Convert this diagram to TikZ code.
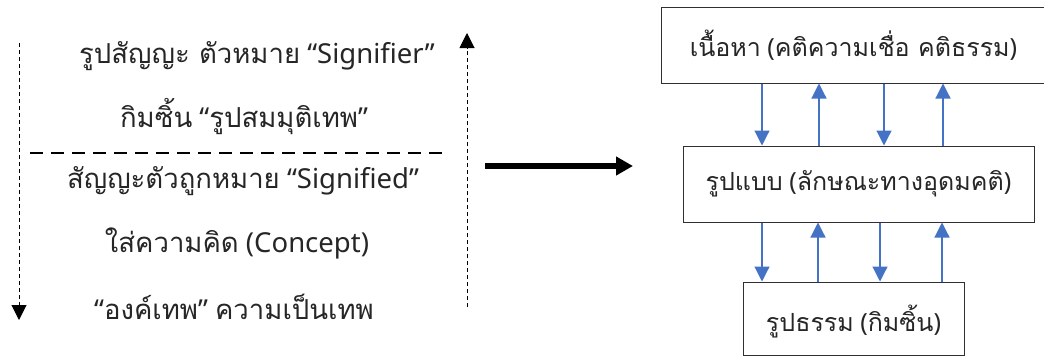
\documentclass[tikz,border=0pt]{standalone}
\usepackage{fontspec}
\setmainfont{Noto Sans}
\newfontfamily\thaif[Script=Thai]{Loma}
\usetikzlibrary{arrows.meta}
\definecolor{arrowblue}{HTML}{4472C4}
\definecolor{boxgray}{HTML}{303030}
\begin{document}
\begin{tikzpicture}[x=1pt,y=-1pt,
  txt/.style={font=\fontsize{27.5}{32}\selectfont, text=black!85, inner sep=0pt},
  box/.style={draw=boxgray, line width=1pt, fill=white, inner sep=0pt, font=\fontsize{25}{30}\selectfont, text=black!85},
  blarrow/.style={draw=arrowblue, line width=1.2pt, -{Triangle[length=15pt,width=15pt]}},
  vdash/.style={line width=1pt, dash pattern=on 4pt off 3pt, -{Triangle[length=15pt,width=15pt]}},
  hdash/.style={line width=2.5pt, dash pattern=on 13pt off 8pt},
  bigarrow/.style={line width=5.5pt, -{Triangle[length=17pt,width=18pt]}}
]
\useasboundingbox (0,0) rectangle (1044,356);
\fill[white] (0,0) rectangle (1044,356);

% left column texts
\node[txt] (t1) at (257,56) {{\thaif รูปสัญญะ ตัวหมาย} “Signifier”};
\node[txt] (t2) at (244,117) {{\thaif กิมซิ้น} “{\thaif รูปสมมุติเทพ}”};
\node[txt] (t3) at (243,181) {{\thaif สัญญะตัวถูกหมาย} “Signified”};
\node[txt] (t4) at (237,243) {{\thaif ใส่ความคิด} (Concept)};
\node[txt] (t5) at (234,307) {“{\thaif องค์เทพ}” {\thaif ความเป็นเทพ}};

% dashed arrows and line
\coordinate (l1) at (19,43);
\coordinate (l2) at (19,320);
\coordinate (r1) at (467,307);
\coordinate (r2) at (467,33);
\coordinate (h1) at (30,153);
\coordinate (h2) at (447,153);
\draw[vdash] (l1) -- (l2);
\draw[vdash] (r1) -- (r2);
\draw[hdash] (h1) -- (h2);

% big arrow
\coordinate (a1) at (485,166);
\coordinate (a2) at (633,166);
\draw[bigarrow] (a1) -- (a2);

% boxes
\node[box, minimum width=385pt, minimum height=76pt] (top) at (853.5,45) {{\thaif เนื้อหา} ({\thaif คติความเชื่อ คติธรรม})};
\node[box, minimum width=351pt, minimum height=76pt] (mid) at (858.5,184) {{\thaif รูปแบบ} ({\thaif ลักษณะทางอุดมคติ})};
\node[box, minimum width=221pt, minimum height=73pt, text depth=0pt] (bot) at (853.5,318.5) {{\thaif รูปธรรม} ({\thaif กิมซิ้น})};

% blue arrows top <-> mid
\draw[blarrow] ([xshift=-91.5pt]top.south) -- ([xshift=-96.5pt]mid.north);
\draw[blarrow] ([xshift=-39.5pt]mid.north) -- ([xshift=-34.5pt]top.south);
\draw[blarrow] ([xshift=30.5pt]top.south) -- ([xshift=25.5pt]mid.north);
\draw[blarrow] ([xshift=84.5pt]mid.north) -- ([xshift=89.5pt]top.south);
% blue arrows mid <-> bot
\draw[blarrow] ([xshift=-96.5pt]mid.south) -- ([xshift=-91.5pt]bot.north);
\draw[blarrow] ([xshift=-35.5pt]bot.north) -- ([xshift=-40.5pt]mid.south);
\draw[blarrow] ([xshift=21.5pt]mid.south) -- ([xshift=26.5pt]bot.north);
\draw[blarrow] ([xshift=88.5pt]bot.north) -- ([xshift=83.5pt]mid.south);
\end{tikzpicture}
\end{document}
